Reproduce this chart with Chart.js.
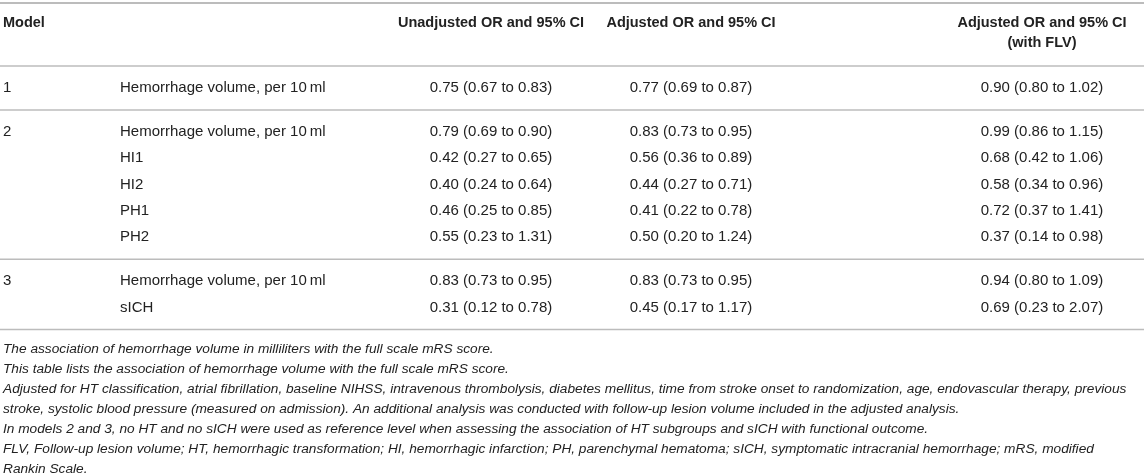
<!DOCTYPE html>
<html>
<head>
<meta charset="utf-8">
<script src="https://cdn.jsdelivr.net/npm/chart.js@4"></script>
<style>
  html, body { margin: 0; padding: 0; background: #fff; }
  #wrap { width: 1144px; height: 475px; position: relative; }
</style>
</head>
<body>
<div id="wrap"><canvas id="tableChart"></canvas></div>
<script>
// Table data
const headers = ['Model', '', 'Unadjusted OR and 95% CI', 'Adjusted OR and 95% CI', 'Adjusted OR and 95% CI'];
const headerSub = ['', '', '', '', '(with FLV)'];
const models = ['1', '2', '3'];
const groupSizes = [1, 5, 2];
const rowLabels = [
    'Hemorrhage volume, per 10\u2009ml',
    'Hemorrhage volume, per 10\u2009ml', 'HI1', 'HI2', 'PH1', 'PH2',
    'Hemorrhage volume, per 10\u2009ml', 'sICH'
];

const unadjOR = [0.75, 0.79, 0.42, 0.40, 0.46, 0.55, 0.83, 0.31];
const unadjLo = [0.67, 0.69, 0.27, 0.24, 0.25, 0.23, 0.73, 0.12];
const unadjHi = [0.83, 0.90, 0.65, 0.64, 0.85, 1.31, 0.95, 0.78];

const adjOR = [0.77, 0.83, 0.56, 0.44, 0.41, 0.50, 0.83, 0.45];
const adjLo = [0.69, 0.73, 0.36, 0.27, 0.22, 0.20, 0.73, 0.17];
const adjHi = [0.87, 0.95, 0.89, 0.71, 0.78, 1.24, 0.95, 1.17];

const flvOR = [0.90, 0.99, 0.68, 0.58, 0.72, 0.37, 0.94, 0.69];
const flvLo = [0.80, 0.86, 0.42, 0.34, 0.37, 0.14, 0.80, 0.23];
const flvHi = [1.02, 1.15, 1.06, 0.96, 1.41, 0.98, 1.09, 2.07];

const footnotes = [
    'The association of hemorrhage volume in milliliters with the full scale mRS score.',
    'This table lists the association of hemorrhage volume with the full scale mRS score.',
    'Adjusted for HT classification, atrial fibrillation, baseline NIHSS, intravenous thrombolysis, diabetes mellitus, time from stroke onset to randomization, age, endovascular therapy, previous',
    'stroke, systolic blood pressure (measured on admission). An additional analysis was conducted with follow-up lesion volume included in the adjusted analysis.',
    'In models 2 and 3, no HT and no sICH were used as reference level when assessing the association of HT subgroups and sICH with functional outcome.',
    'FLV, Follow-up lesion volume; HT, hemorrhagic transformation; HI, hemorrhagic infarction; PH, parenchymal hematoma; sICH, symptomatic intracranial hemorrhage; mRS, modified',
    'Rankin Scale.'
];

const fmt = (v, lo, hi) => v.toFixed(2) + ' (' + lo.toFixed(2) + ' to ' + hi.toFixed(2) + ')';

// layout (in scale units == px of the 1144x475 area)
const W = 1144, H = 475;
const colX = [3, 120, 491, 691, 1042];
const colAlign = ['left', 'left', 'center', 'center', 'center'];
const pad = 22, pitch = 26.3, noteStart = 349, notePitch = 20;
const textColor = '#222';
const ruleColor = '#bcbcbc';
const fontFam = '"Liberation Sans", Arial, Helvetica, sans-serif';
const bodyFont = '15px ' + fontFam;
const headFont = 'bold 14.5px ' + fontFam;
const noteFont = 'italic 13.7px ' + fontFam;

const tablePlugin = {
    id: 'tablePlugin',
    afterDraw(chart) {
        const { ctx, scales: { x, y } } = chart;
        const rule = (v, w) => {
            ctx.save();
            ctx.strokeStyle = ruleColor;
            ctx.lineWidth = w;
            ctx.beginPath();
            ctx.moveTo(x.getPixelForValue(0), y.getPixelForValue(v));
            ctx.lineTo(x.getPixelForValue(W), y.getPixelForValue(v));
            ctx.stroke();
            ctx.restore();
        };
        const text = (s, col, v, font) => {
            ctx.font = font;
            ctx.textAlign = colAlign[col];
            ctx.textBaseline = 'middle';
            ctx.fillText(s, x.getPixelForValue(colX[col]), y.getPixelForValue(v));
        };
        ctx.save();
        ctx.fillStyle = textColor;

        rule(3, 2);
        headers.forEach((h, c) => h && text(h, c, 23, headFont));
        headerSub.forEach((h, c) => h && text(h, c, 43, headFont));
        let ruleY = 66;
        rule(ruleY, 1.5);

        let r = 0;
        groupSizes.forEach((n, g) => {
            for (let i = 0; i < n; i++, r++) {
                const ry = ruleY + pad + i * pitch;
                if (i === 0) text(models[g], 0, ry, bodyFont);
                text(rowLabels[r], 1, ry, bodyFont);
                text(fmt(unadjOR[r], unadjLo[r], unadjHi[r]), 2, ry, bodyFont);
                text(fmt(adjOR[r], adjLo[r], adjHi[r]), 3, ry, bodyFont);
                text(fmt(flvOR[r], flvLo[r], flvHi[r]), 4, ry, bodyFont);
            }
            ruleY = ruleY + pad * 2 + (n - 1) * pitch;
            rule(ruleY, 1.5);
        });

        footnotes.forEach((s, i) => text(s, 0, noteStart + i * notePitch, noteFont));
        ctx.restore();
    }
};

new Chart(document.getElementById('tableChart'), {
    type: 'scatter',
    data: { datasets: [] },
    options: {
        responsive: true,
        maintainAspectRatio: false,
        animation: false,
        layout: { padding: 0 },
        plugins: { legend: { display: false }, tooltip: { enabled: false } },
        scales: {
            x: { type: 'linear', min: 0, max: W, display: false },
            y: { type: 'linear', min: 0, max: H, reverse: true, display: false }
        }
    },
    plugins: [tablePlugin]
});
</script>
</body>
</html>
